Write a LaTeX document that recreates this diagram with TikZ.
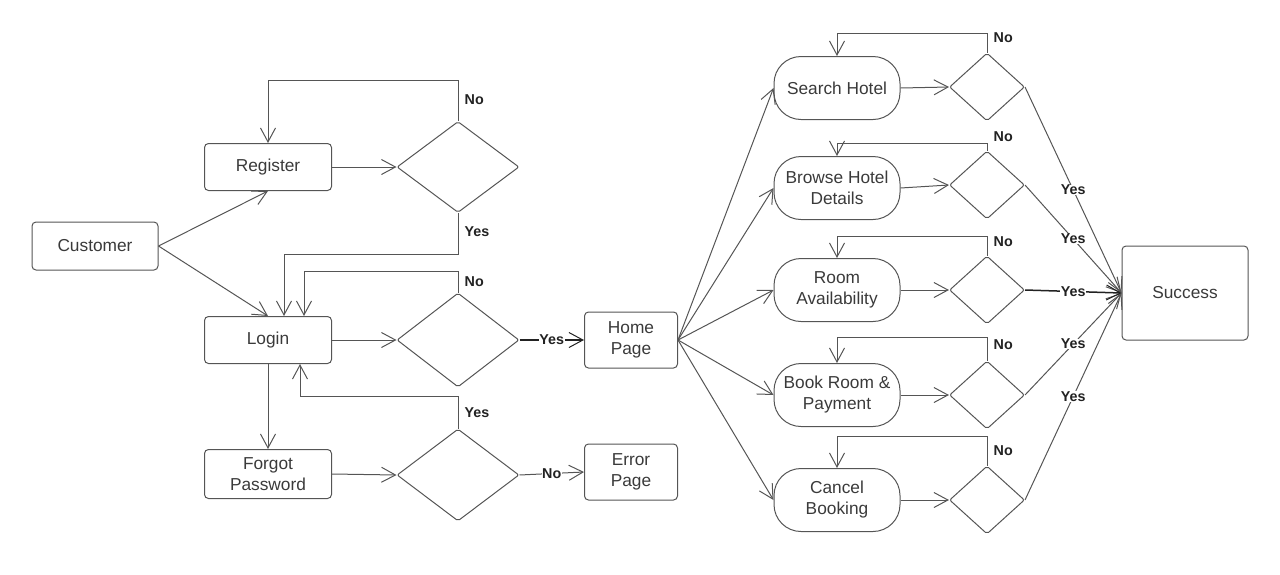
\documentclass[tikz,border=0pt]{standalone}
\usepackage{fontspec}
\setmainfont{Liberation Sans}
\usetikzlibrary{shapes.geometric,arrows.meta,calc}
\definecolor{lc}{HTML}{555555}
\definecolor{tc}{HTML}{3A3A3A}
\definecolor{lbc}{HTML}{222222}
\begin{document}
\begin{tikzpicture}[x=1pt,y=-1pt,
  box/.style={draw=lc, line width=1pt, rounded corners=4pt, align=center, text=tc,
    font=\fontsize{17.3}{21}\selectfont, inner sep=0pt},
  pill/.style={draw=lc, line width=1pt, rounded corners=27pt, align=center, text=tc,
    font=\fontsize{17.3}{21}\selectfont, inner sep=0pt, minimum width=126pt, minimum height=63pt},
  dia/.style={draw=lc, line width=1pt, diamond, inner sep=0pt, rounded corners=2pt},
  arr/.style={draw=lc, line width=1pt, -{Straight Barb[length=14pt,width=15pt,line width=1pt]}},
  bold/.style={draw=lbc, line width=1.5pt},
  lbl/.style={font=\bfseries\fontsize{14.3}{16}\selectfont, text=lbc, inner sep=0.5pt},
  lblw/.style={lbl, fill=white}
]
\useasboundingbox (0,0) rectangle (1280,574);
% left nodes
\node[box, minimum width=126pt, minimum height=48pt] (cust) at (95,246) {Customer};
\node[box, minimum width=127pt, minimum height=47pt] (reg) at (268,167) {Register};
\node[box, minimum width=127pt, minimum height=47pt] (login) at (268,340) {Login};
\node[box, minimum width=127pt, minimum height=49pt] (forgot) at (268,474) {Forgot\\Password};
\node[box, minimum width=93pt, minimum height=56pt] (home) at (631,340) {Home\\Page};
\node[box, minimum width=93pt, minimum height=56pt] (error) at (631,472) {Error\\Page};
\node[dia, minimum width=122pt, minimum height=91pt] (d1) at (458,167) {};
\node[dia, minimum width=122pt, minimum height=94pt] (d2) at (458,340) {};
\node[dia, minimum width=122pt, minimum height=92pt] (d3) at (458,475) {};
% right nodes
\node[pill] (r1) at (837,88) {Search Hotel};
\node[pill] (r2) at (837,188) {Browse Hotel\\Details};
\node[pill] (r3) at (837,290) {Room\\Availability};
\node[pill] (r4) at (837,395) {Book Room \&\\Payment};
\node[pill] (r5) at (837,500) {Cancel\\Booking};
\foreach \i/\y in {1/87,2/185,3/290,4/395,5/500}{
  \node[dia, minimum width=75pt, minimum height=68pt] (q\i) at (987,\y) {};
}
\node[box, minimum width=126pt, minimum height=94pt] (succ) at (1185,293) {Success};
% left connectors
\draw[arr] (cust.east) -- (reg.south);
\draw[arr] (cust.east) -- (login.north);
\draw[arr] (reg.east) -- (d1.west);
\draw[arr] (d1.north) -- (d1.north |- 0,80) -| (reg.north);
\node[lbl, anchor=west] at (464,100) {No};
\draw[arr] (d1.south) -- (d1.south |- 0,254) -| ([xshift=16pt]login.north);
\node[lbl, anchor=west] at (464,232) {Yes};
\draw[arr] (d2.north) -- (d2.north |- 0,271) -| ([xshift=36pt]login.north);
\node[lbl, anchor=west] at (464,282) {No};
\draw[arr] (login.east) -- (d2.west);
\draw[arr, bold] (d2.east) -- node[lblw] {Yes} (home.west);
\draw[arr] (login.south) -- (forgot.north);
\draw[arr] (forgot.east) -- (d3.west);
\draw[arr] (d3.north) -- (d3.north |- 0,396) -| ([xshift=32pt]login.south);
\node[lbl, anchor=west] at (464,413) {Yes};
\draw[arr] (d3.east) -- node[lblw] {No} (error.west);
% right connectors
\foreach \i/\ly/\ny in {1/33/38,2/143/137,3/236/242,4/337/345,5/436/451}{
  \draw[arr] (home.east) -- (r\i.west);
  \draw[arr] (r\i.east) -- (q\i.west);
  \draw[arr] (q\i.north) -- (q\i.north |- 0,\ly) -| (r\i.north);
  \node[lbl, anchor=west] at (993,\ny) {No};
}
\foreach \i in {1,2,4,5}{
  \draw[arr] (q\i.east) -- node[lblw] {Yes} (succ.west);
}
\draw[arr, bold] (q3.east) -- node[lblw] {Yes} (succ.west);
\end{tikzpicture}
\end{document}
